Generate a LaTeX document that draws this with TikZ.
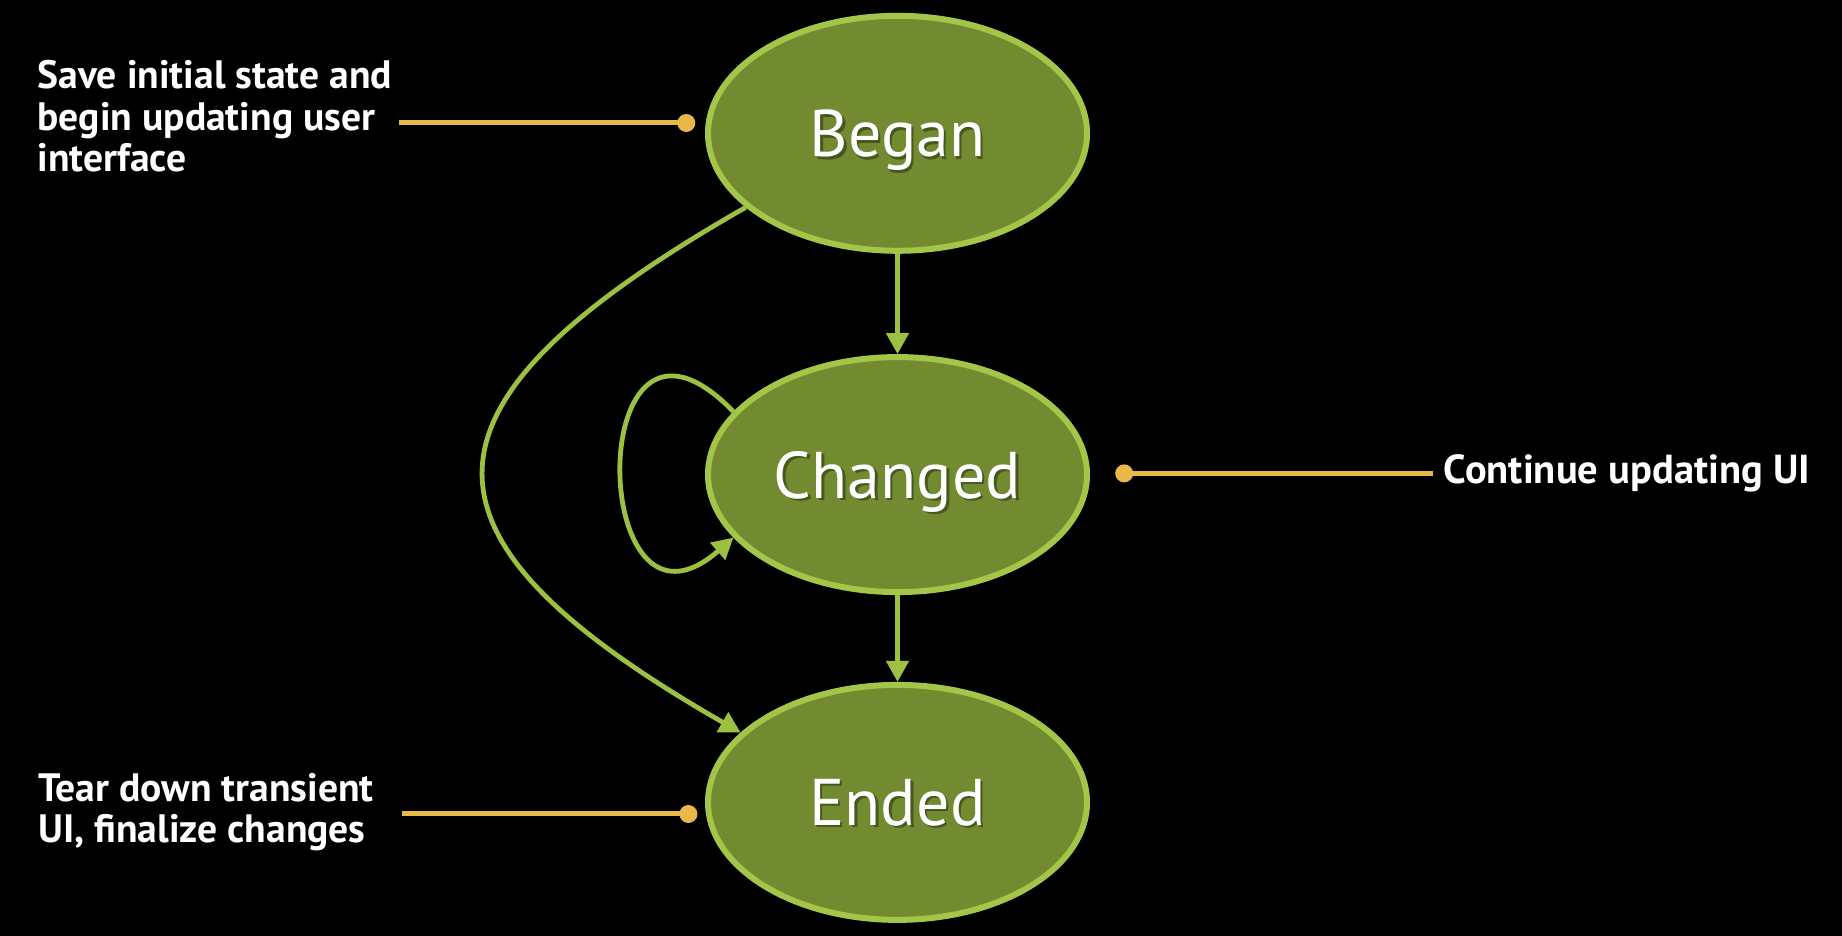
\documentclass[tikz,border=0pt]{standalone}
\usepackage{fontspec}
\setmainfont{PT Sans}
\usetikzlibrary{arrows.meta,shapes.geometric}
\definecolor{nodefill}{RGB}{114,139,48}
\definecolor{nodeline}{RGB}{163,198,72}
\definecolor{edgecol}{RGB}{155,192,66}
\definecolor{pincol}{RGB}{234,184,72}
\definecolor{shadowcol}{RGB}{70,88,28}
\newcommand{\shtext}[1]{\rlap{\kern2.5pt\raisebox{-2.5pt}{\textcolor{shadowcol}{#1}}}#1}
\begin{document}
\begin{tikzpicture}[x=1pt,y=1pt,
  state/.style={ellipse, draw=nodeline, line width=6pt, fill=nodefill,
    minimum width=379pt, minimum height=235pt, inner sep=0pt,
    text=white, text depth=0pt, font=\fontsize{66}{70}\selectfont},
  edge/.style={draw=edgecol, line width=4.8pt,
    -{Triangle[length=21pt,width=22pt]}},
  pin/.style={draw=pincol, line width=5pt},
  dot/.style={circle, fill=pincol, minimum size=18pt, inner sep=0pt},
  note/.style={text=white, align=left, inner sep=0pt,
    font=\bfseries\fontsize{39.6}{41.5}\selectfont}
]
\path[fill=black] (0,0) rectangle (1842,936);
\useasboundingbox (0,0) rectangle (1842,936);

\node[state] (began)   at (897.5,802.7) {\shtext{Began}};
\node[state] (changed) at (897.5,461.4) {\shtext{Changed}};
\node[state] (ended)   at (897.5,133.6) {\shtext{Ended}};

\draw[edge] (began) -- (changed);
\draw[edge] (changed) -- (ended);
\draw[edge] (began.206) .. controls (398,530) and (398,400) .. (ended.156);
\draw[edge] (changed.159) .. controls (582,680) and (587,270) .. (changed.201);

% notes
\node[note, anchor=base west] (n1) at (37.5,764.3) {Save initial state and\\begin updating user\\interface};
\node[dot] (d1) at (686.3,813) {};
\coordinate (p1) at (399.4,813);
\draw[pin] (p1) -- (d1.center);

\node[note, anchor=base west, font=\bfseries\fontsize{40.5}{41.5}\selectfont] (n2) at (1443.7,452) {Continue updating UI};
\node[dot] (d2) at (1124.2,462.6) {};
\coordinate (p2) at (1433,462.6);
\draw[pin] (d2.center) -- (p2);

\node[note, anchor=base west] (n3) at (38,93) {Tear down transient\\UI, finalize changes};
\node[dot] (d3) at (688.4,122) {};
\coordinate (p3) at (401.7,122);
\draw[pin] (p3) -- (d3.center);
\end{tikzpicture}
\end{document}
